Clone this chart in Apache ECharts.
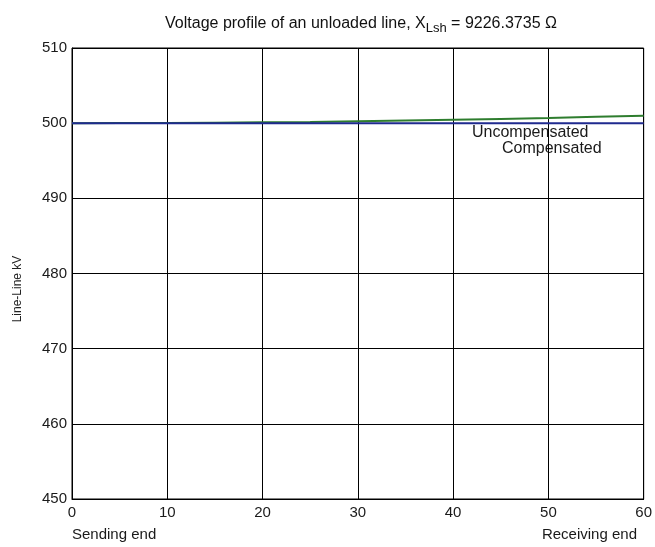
<!DOCTYPE html>
<html>
<head>
<meta charset="utf-8">
<script src="https://cdn.jsdelivr.net/npm/echarts@6/dist/echarts.min.js"></script>
<style>
  html, body { margin: 0; padding: 0; background: #fff; }
  #chart { width: 655px; height: 547px; }
</style>
</head>
<body>
<div id="chart"></div>
<script>
// Position along the line (km) and line-line voltage (kV)
const distance = [0, 5, 10, 15, 20, 25, 30, 35, 40, 45, 50, 55, 60];
const uncompensatedKV = [500.0, 500.01, 500.03, 500.06, 500.11, 500.17, 500.25, 500.34, 500.44, 500.56, 500.69, 500.84, 501.0];
const compensatedKV = [500.0, 500.0, 500.0, 500.0, 500.0, 500.0, 500.0, 500.0, 500.0, 500.0, 500.0, 500.0, 500.0];
const xTicks = [0, 10, 20, 30, 40, 50, 60];
const yTicks = [450, 460, 470, 480, 490, 500, 510];

const FONT = '"Liberation Sans", Arial, sans-serif';
const chart = echarts.init(document.getElementById('chart'));

chart.setOption({
  animation: false,
  backgroundColor: '#fff',
  title: {
    text: '{t|Voltage profile of an unloaded line, X}{s|Lsh}{t| = 9226.3735 Ω}',
    left: 356,
    textAlign: 'center',
    top: 7,
    textStyle: {
      rich: {
        t: { fontFamily: FONT, fontSize: 16, fontWeight: 'normal', color: '#111' },
        s: { fontFamily: FONT, fontSize: 13, fontWeight: 'normal', color: '#111', padding: [10, 0, 0, 0] }
      }
    }
  },
  grid: { left: 72, right: 9, top: 48, bottom: 48, show: true, borderColor: '#000', borderWidth: 1 },
  xAxis: {
    type: 'value',
    min: xTicks[0],
    max: xTicks[xTicks.length - 1],
    interval: 10,
    axisLine: { show: true, lineStyle: { color: '#000', width: 1 } },
    axisTick: { show: false },
    splitLine: { show: true, lineStyle: { color: '#000', width: 1 } },
    axisLabel: { fontFamily: FONT, fontSize: 15, color: '#1a1a1a', margin: 6 }
  },
  yAxis: {
    type: 'value',
    min: yTicks[0],
    max: yTicks[yTicks.length - 1],
    interval: 10,
    axisLine: { show: true, lineStyle: { color: '#000', width: 1 } },
    axisTick: { show: false },
    splitLine: { show: true, lineStyle: { color: '#000', width: 1 } },
    axisLabel: { fontFamily: FONT, fontSize: 15, color: '#1a1a1a', margin: 5 }
  },
  series: [
    {
      name: 'Uncompensated',
      type: 'line',
      data: distance.map((d, i) => [d, uncompensatedKV[i]]),
      showSymbol: false,
      lineStyle: { color: '#2e7d2e', width: 2 },
      z: 3
    },
    {
      name: 'Compensated',
      type: 'line',
      data: distance.map((d, i) => [d, compensatedKV[i]]),
      showSymbol: false,
      lineStyle: { color: '#1f2a8f', width: 2 },
      z: 4
    }
  ],
  graphic: [
    {
      type: 'text', x: 18, y: 289, rotation: Math.PI / 2,
      style: { text: 'Line-Line kV', font: '12px ' + FONT, fill: '#222', align: 'center', verticalAlign: 'middle' }
    },
    { type: 'text', left: 472, top: 125, style: { text: 'Uncompensated', font: '16px ' + FONT, fill: '#1a1a1a' } },
    { type: 'text', left: 502, top: 141, style: { text: 'Compensated', font: '16px ' + FONT, fill: '#1a1a1a' } },
    { type: 'text', left: 72, top: 527, style: { text: 'Sending end', font: '15px ' + FONT, fill: '#1a1a1a' } },
    { type: 'text', right: 18, top: 527, style: { text: 'Receiving end', font: '15px ' + FONT, fill: '#1a1a1a' } }
  ]
});
</script>
</body>
</html>
